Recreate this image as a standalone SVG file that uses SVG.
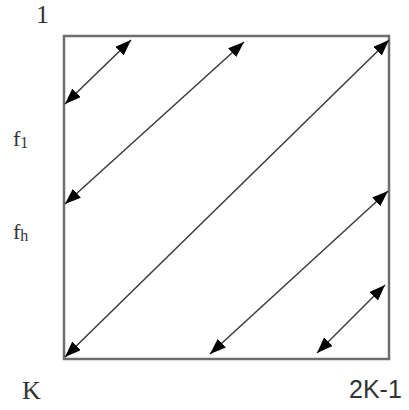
<svg xmlns="http://www.w3.org/2000/svg" width="409" height="410" viewBox="0 0 409 410">
<defs>
<style>
.frame{fill:none;stroke:#6e6e6e;stroke-width:2.5}
.arr{fill:none;stroke:#3a3a3a;stroke-width:1.5;marker-start:url(#ah);marker-end:url(#ah)}
.lbl{font-family:"Liberation Serif",serif;fill:#333}
.lbs{font-family:"Liberation Sans",sans-serif;fill:#333}
</style>
<marker id="ah" viewBox="0 0 16 12" refX="16" refY="6" markerWidth="16" markerHeight="12" markerUnits="userSpaceOnUse" orient="auto-start-reverse">
<path d="M0,0 L16,6 L0,12 Z" fill="#000"/>
</marker>
</defs>
<g id="frame"><rect class="frame" x="64" y="36" width="325" height="323"/></g>
<g id="connectors">
<line class="arr" x1="65" y1="104" x2="131" y2="40"/>
<line class="arr" x1="65" y1="204" x2="244" y2="42"/>
<line class="arr" x1="65" y1="357" x2="389" y2="40"/>
<line class="arr" x1="210" y1="354" x2="388" y2="191"/>
<line class="arr" x1="317" y1="353" x2="385" y2="285"/>
</g>
<g id="labels">
<text class="lbl" x="36" y="23" font-size="26">1</text>
<text class="lbl" x="13" y="146" font-size="22">f<tspan font-size="16" dy="2">1</tspan></text>
<text class="lbl" x="13" y="239" font-size="22">f<tspan font-size="16" dy="2">h</tspan></text>
<text class="lbl" x="22" y="399" font-size="26">K</text>
<text class="lbs" x="349" y="398" font-size="25">2K-1</text>
</g>
</svg>
